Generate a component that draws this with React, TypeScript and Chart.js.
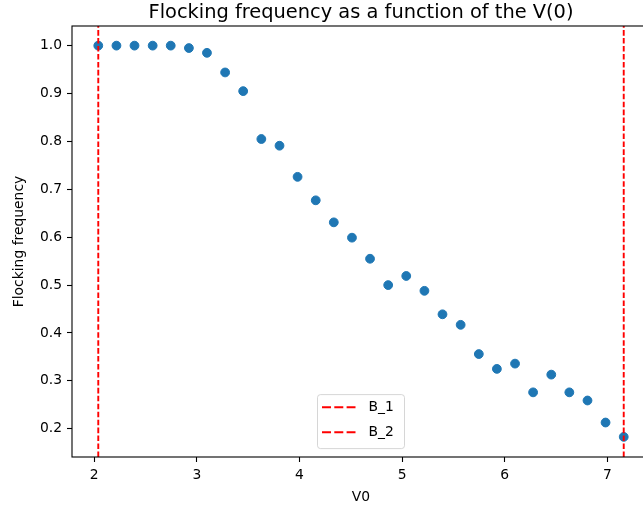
import React, { useEffect, useRef } from "react";
import { Chart, registerables } from "chart.js";

Chart.register(...registerables);

const V0 = [
  2.04, 2.217, 2.393, 2.57, 2.746, 2.923, 3.099, 3.276, 3.452, 3.629,
  3.806, 3.982, 4.159, 4.335, 4.512, 4.688, 4.865, 5.041, 5.218, 5.394,
  5.571, 5.748, 5.924, 6.101, 6.277, 6.454, 6.63, 6.807, 6.983, 7.16,
];
const FREQ = [
  1.0, 1.0, 1.0, 1.0, 1.0, 0.995, 0.985, 0.944, 0.905, 0.805,
  0.791, 0.726, 0.677, 0.631, 0.599, 0.555, 0.5, 0.519, 0.488, 0.439,
  0.417, 0.356, 0.325, 0.336, 0.276, 0.313, 0.276, 0.259, 0.213, 0.183,
];
const B_1 = 2.04;
const B_2 = 7.16;
const X_TICKS = [2, 3, 4, 5, 6, 7];
const Y_TICKS = [0.2, 0.3, 0.4, 0.5, 0.6, 0.7, 0.8, 0.9, 1.0];
const X_RANGE = [1.784, 7.416];
const Y_RANGE = [0.141, 1.041];
const TITLE = "Flocking frequency as a function of the V(0)";
const X_LABEL = "V0";
const Y_LABEL = "Flocking frequency";
const LEGEND_LABELS = ["B_1", "B_2"];

const FONT = '"DejaVu Sans", sans-serif';
const BLUE = "#1f77b4";
const RED = "#ff0000";

const decorPlugin = {
  id: "decor",
  afterDraw(chart: any) {
    const { ctx, chartArea: a } = chart;
    ctx.save();
    // frame (spines)
    ctx.strokeStyle = "#000";
    ctx.lineWidth = 1.1;
    ctx.setLineDash([]);
    ctx.strokeRect(a.left, a.top, a.right - a.left, a.bottom - a.top);

    // title
    ctx.fillStyle = "#000";
    ctx.font = `19.4px ${FONT}`;
    ctx.textAlign = "center";
    ctx.textBaseline = "alphabetic";
    ctx.fillText(TITLE, (a.left + a.right) / 2, a.top - 8.4);

    // legend
    const boxW = 87;
    const boxH = 54;
    const bx = (a.left + a.right) / 2 - boxW / 2;
    const by = a.bottom - 8.4 - boxH;
    const r = 3;
    ctx.beginPath();
    ctx.moveTo(bx + r, by);
    ctx.lineTo(bx + boxW - r, by);
    ctx.quadraticCurveTo(bx + boxW, by, bx + boxW, by + r);
    ctx.lineTo(bx + boxW, by + boxH - r);
    ctx.quadraticCurveTo(bx + boxW, by + boxH, bx + boxW - r, by + boxH);
    ctx.lineTo(bx + r, by + boxH);
    ctx.quadraticCurveTo(bx, by + boxH, bx, by + boxH - r);
    ctx.lineTo(bx, by + r);
    ctx.quadraticCurveTo(bx, by, bx + r, by);
    ctx.closePath();
    ctx.fillStyle = "rgba(255,255,255,0.8)";
    ctx.fill();
    ctx.strokeStyle = "rgba(204,204,204,0.8)";
    ctx.lineWidth = 1;
    ctx.stroke();

    LEGEND_LABELS.forEach((lab, i) => {
      const y = by + 12.7 + i * 25;
      ctx.beginPath();
      ctx.setLineDash([9, 3.3]);
      ctx.strokeStyle = RED;
      ctx.lineWidth = 2;
      ctx.moveTo(bx + 4.5, y);
      ctx.lineTo(bx + 38, y);
      ctx.stroke();
      ctx.setLineDash([]);
      ctx.fillStyle = "#000";
      ctx.font = `13.89px ${FONT}`;
      ctx.textAlign = "left";
      ctx.textBaseline = "middle";
      ctx.fillText(lab, bx + 51, y);
    });
    ctx.restore();
  },
};

export default function App() {
  const ref = useRef<HTMLCanvasElement | null>(null);

  useEffect(() => {
    if (!ref.current) return;
    const tickFont = { family: FONT, size: 13.89 };
    const chart = new Chart(ref.current, {
      type: "scatter",
      data: {
        datasets: [
          {
            type: "line",
            label: LEGEND_LABELS[0],
            data: [
              { x: B_1, y: Y_RANGE[0] },
              { x: B_1, y: Y_RANGE[1] },
            ],
            borderColor: RED,
            borderWidth: 1.9,
            borderDash: [5.55, 2.4],
            pointRadius: 0,
            fill: false,
            order: 0,
          },
          {
            type: "line",
            label: LEGEND_LABELS[1],
            data: [
              { x: B_2, y: Y_RANGE[0] },
              { x: B_2, y: Y_RANGE[1] },
            ],
            borderColor: RED,
            borderWidth: 1.9,
            borderDash: [5.55, 2.4],
            pointRadius: 0,
            fill: false,
            order: 0,
          },
          {
            type: "scatter",
            label: "frequency",
            data: V0.map((x, i) => ({ x, y: FREQ[i] })),
            backgroundColor: BLUE,
            borderColor: BLUE,
            borderWidth: 1,
            pointRadius: 4.4,
            pointHoverRadius: 4.4,
            order: 1,
          },
        ],
      } as any,
      options: {
        responsive: false,
        animation: false,
        layout: { padding: { top: 26, right: 30, left: 0, bottom: 0 } },
        plugins: {
          legend: { display: false },
          tooltip: { enabled: false },
          title: { display: false },
        },
        scales: {
          x: {
            type: "linear",
            min: X_RANGE[0],
            max: X_RANGE[1],
            afterBuildTicks: (s: any) => {
              s.ticks = X_TICKS.map((v) => ({ value: v }));
            },
            afterFit: (s: any) => {
              s.height = 54;
            },
            grid: {
              drawOnChartArea: false,
              drawTicks: true,
              tickLength: 5,
              tickColor: "#000",
              tickWidth: 1.1,
            },
            border: { display: false },
            ticks: {
              padding: 5,
              color: "#000",
              font: tickFont,
              maxRotation: 0,
              autoSkip: false,
              callback: (v: any) => String(v),
            },
            title: {
              display: true,
              text: X_LABEL,
              color: "#000",
              font: tickFont,
              padding: { top: 0, bottom: 5 },
            },
          },
          y: {
            type: "linear",
            min: Y_RANGE[0],
            max: Y_RANGE[1],
            afterBuildTicks: (s: any) => {
              s.ticks = Y_TICKS.map((v) => ({ value: v }));
            },
            afterFit: (s: any) => {
              s.width = 72;
            },
            grid: {
              drawOnChartArea: false,
              drawTicks: true,
              tickLength: 5,
              tickColor: "#000",
              tickWidth: 1.1,
            },
            border: { display: false },
            ticks: {
              padding: 5,
              color: "#000",
              font: tickFont,
              autoSkip: false,
              callback: (v: any) => Number(v).toFixed(1),
            },
            title: {
              display: true,
              text: Y_LABEL,
              color: "#000",
              font: tickFont,
              padding: { top: 11, bottom: 0 },
            },
          },
        },
      } as any,
      plugins: [decorPlugin],
    });
    return () => chart.destroy();
  }, []);

  return (
    <div
      style={{
        position: "fixed",
        left: 0,
        top: 0,
        width: 643,
        height: 511,
        overflow: "hidden",
        background: "#fff",
      }}
    >
      <canvas ref={ref} width={680} height={511} style={{ display: "block" }} />
    </div>
  );
}
